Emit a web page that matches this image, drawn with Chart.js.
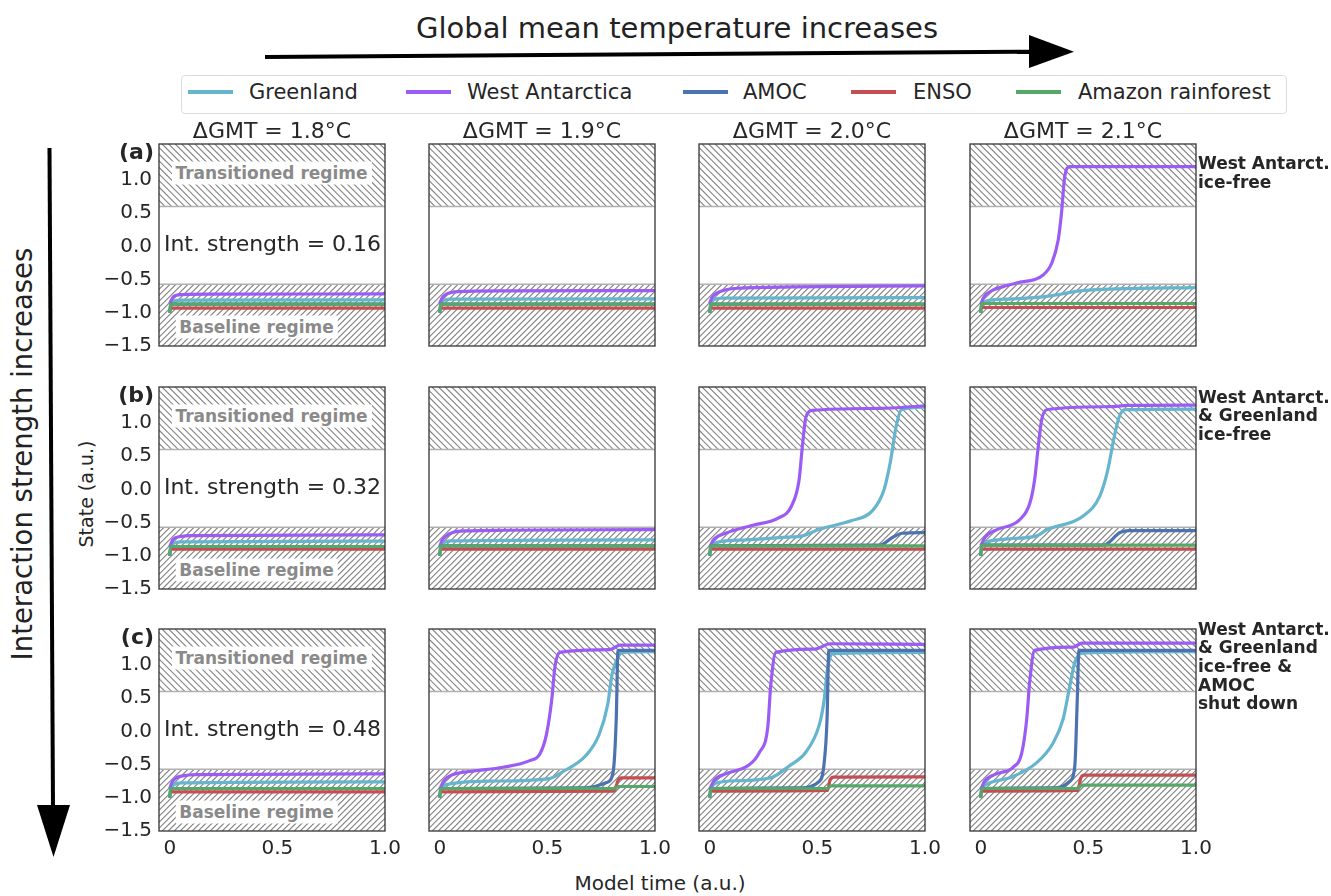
<!DOCTYPE html>
<html><head><meta charset="utf-8">
<script src="https://cdn.jsdelivr.net/npm/chart.js@4.4.0/dist/chart.umd.min.js"></script>
<style>
body{margin:0;background:#fff;}
#fig{position:relative;width:1331px;height:896px;overflow:hidden;font-family:"DejaVu Sans",sans-serif;color:#262626;background:#fff;}
.t{position:absolute;white-space:nowrap;line-height:1;transform:translate(-50%,-50%);}
.lab{position:absolute;white-space:nowrap;line-height:1;transform:translate(-100%,-50%);font-weight:bold;font-size:22px;}
.reg{position:absolute;white-space:nowrap;line-height:1;transform:translate(-50%,-50%);font-weight:bold;font-size:17px;color:#8a8a8a;background:#fff;padding:3px 4px;}
.ann{position:absolute;white-space:nowrap;font-weight:bold;font-size:17px;line-height:18.7px;color:#262626;}
canvas{position:absolute;}
#legend{position:absolute;left:181px;top:75px;width:1104px;height:37px;border:1px solid #dcdcdc;border-radius:4px;}
.lline{position:absolute;height:4px;width:45px;}
.ltxt{position:absolute;font-size:21px;line-height:1;transform:translateY(-50%);white-space:nowrap;}
svg{position:absolute;left:0;top:0;}
</style></head>
<body>
<div id="fig">
<svg width="1331" height="896">
  <line x1="265" y1="57" x2="1034" y2="51.7" stroke="#000" stroke-width="4"/>
  <polygon points="1029,35 1074,51.7 1029,68" fill="#000"/>
  <line x1="49.5" y1="148" x2="53" y2="810" stroke="#000" stroke-width="4"/>
  <polygon points="37,805 70,805 53.5,857" fill="#000"/>
</svg>
</div>
<script>
// ---------- labels ----------
const seriesNames = ['Greenland', 'West Antarctica', 'AMOC', 'ENSO', 'Amazon rainforest'];
const seriesColors = ['#64b5cd', '#9b5cf5', '#4c72b0', '#c44e52', '#55a868'];
const gmtLabels = ['ΔGMT = 1.8°C', 'ΔGMT = 1.9°C', 'ΔGMT = 2.0°C', 'ΔGMT = 2.1°C'];
const rowLabels = ['(a)', '(b)', '(c)'];
const strengths = ['0.16', '0.32', '0.48'];
const yTicks = [-1.5, -1.0, -0.5, 0.0, 0.5, 1.0];
const xTicks = [0, 0.5, 1.0];
const transitionedFrom = 0.6;
const baselineTo = -0.57;
const annotations = [
  ['West Antarct.', 'ice-free'],
  ['West Antarct.', '& Greenland', 'ice-free'],
  ['West Antarct.', '& Greenland', 'ice-free &', 'AMOC', 'shut down']
];

// ---------- data: [model time, state] ----------
// row (a) interaction strength 0.16
const gr_a1 = [[0,-0.86],[0.02,-0.82],[0.06,-0.81],[1,-0.805]];
const wa_a1 = [[0,-0.86],[0.016,-0.76],[0.054,-0.725],[0.2,-0.72],[1,-0.715]];
const am_a1 = [[0,-1.0],[0.004,-0.87],[1,-0.87]];
const en_a1 = [[0,-0.93],[1,-0.93]];
const az_a1 = [[0,-1.0],[0.004,-0.87],[1,-0.87]];

const gr_a2 = [[0,-0.86],[0.02,-0.81],[0.06,-0.795],[1,-0.79]];
const wa_a2 = [[0,-0.86],[0.01,-0.78],[0.03,-0.72],[0.085,-0.68],[0.3,-0.67],[1,-0.665]];
const am_a2 = [[0,-1.0],[0.004,-0.87],[1,-0.87]];
const en_a2 = [[0,-0.93],[1,-0.93]];
const az_a2 = [[0,-1.0],[0.004,-0.87],[1,-0.87]];

const gr_a3 = [[0,-0.86],[0.02,-0.80],[0.06,-0.78],[1,-0.77]];
const wa_a3 = [[0,-0.86],[0.01,-0.77],[0.035,-0.70],[0.08,-0.65],[0.13,-0.63],[0.4,-0.61],[1,-0.595]];
const am_a3 = [[0,-1.0],[0.004,-0.87],[1,-0.87]];
const en_a3 = [[0,-0.93],[1,-0.93]];
const az_a3 = [[0,-1.0],[0.004,-0.87],[1,-0.87]];

const gr_a4 = [[0,-0.86],[0.03,-0.82],[0.15,-0.79],[0.29,-0.76],[0.37,-0.72],[0.46,-0.67],[0.63,-0.64],[1,-0.62]];
const wa_a4 = [[0,-0.87],[0.015,-0.76],[0.056,-0.66],[0.1,-0.61],[0.166,-0.55],[0.29,-0.43],[0.33,-0.25],[0.36,0.10],[0.375,0.50],[0.39,1.05],[0.414,1.20],[1,1.20]];
const am_a4 = [[0,-1.0],[0.004,-0.86],[1,-0.86]];
const en_a4 = [[0,-0.92],[1,-0.92]];
const az_a4 = [[0,-1.0],[0.004,-0.86],[1,-0.86]];

// row (b) interaction strength 0.32
const gr_b1 = [[0,-0.86],[0.02,-0.81],[0.05,-0.79],[1,-0.78]];
const wa_b1 = [[0,-0.86],[0.016,-0.75],[0.05,-0.71],[0.1,-0.695],[1,-0.685]];
const am_b1 = [[0,-1.0],[0.004,-0.86],[1,-0.86]];
const en_b1 = [[0,-0.90],[1,-0.90]];
const az_b1 = [[0,-1.0],[0.004,-0.86],[1,-0.86]];

const gr_b2 = [[0,-0.86],[0.02,-0.80],[0.05,-0.775],[1,-0.76]];
const wa_b2 = [[0,-0.86],[0.01,-0.77],[0.03,-0.70],[0.06,-0.65],[0.12,-0.625],[0.3,-0.615],[1,-0.605]];
const am_b2 = [[0,-1.0],[0.004,-0.85],[1,-0.85]];
const en_b2 = [[0,-0.90],[1,-0.90]];
const az_b2 = [[0,-1.0],[0.004,-0.85],[1,-0.85]];

const gr_b3 = [[0,-0.86],[0.03,-0.80],[0.167,-0.76],[0.36,-0.72],[0.43,-0.70],[0.51,-0.60],[0.66,-0.47],[0.756,-0.32],[0.81,0.0],[0.84,0.43],[0.865,0.93],[0.89,1.20],[1,1.24]];
const wa_b3 = [[0,-0.86],[0.02,-0.75],[0.074,-0.66],[0.2,-0.54],[0.32,-0.43],[0.38,-0.25],[0.415,0.14],[0.43,0.64],[0.447,1.09],[0.477,1.19],[0.79,1.22],[1,1.26]];
const am_b3 = [[0,-1.0],[0.004,-0.85],[0.79,-0.84],[0.85,-0.72],[0.895,-0.66],[1,-0.65]];
const en_b3 = [[0,-0.90],[1,-0.90]];
const az_b3 = [[0,-1.0],[0.004,-0.85],[1,-0.85]];

const gr_b4 = [[0,-0.85],[0.03,-0.79],[0.15,-0.74],[0.26,-0.70],[0.306,-0.61],[0.476,-0.40],[0.553,-0.10],[0.59,0.29],[0.62,0.79],[0.643,1.09],[0.67,1.20],[1,1.21]];
const wa_b4 = [[0,-0.85],[0.02,-0.72],[0.073,-0.61],[0.18,-0.46],[0.228,-0.21],[0.25,0.14],[0.267,0.64],[0.283,1.05],[0.306,1.20],[0.6,1.245],[0.68,1.265],[1,1.27]];
const am_b4 = [[0,-1.0],[0.004,-0.84],[0.57,-0.84],[0.647,-0.65],[0.69,-0.62],[1,-0.62]];
const en_b4 = [[0,-0.90],[1,-0.90]];
const az_b4 = [[0,-1.0],[0.004,-0.84],[1,-0.84]];

// row (c) interaction strength 0.48
const gr_c1 = [[0,-0.86],[0.02,-0.80],[0.05,-0.775],[1,-0.76]];
const wa_c1 = [[0,-0.86],[0.01,-0.77],[0.03,-0.70],[0.06,-0.67],[0.12,-0.65],[1,-0.64]];
const am_c1 = [[0,-1.0],[0.004,-0.86],[1,-0.86]];
const en_c1 = [[0,-0.91],[1,-0.91]];
const az_c1 = [[0,-1.0],[0.004,-0.86],[1,-0.86]];

const gr_c2 = [[0,-0.86],[0.03,-0.80],[0.217,-0.75],[0.51,-0.71],[0.57,-0.61],[0.68,-0.36],[0.74,-0.05],[0.78,0.40],[0.80,0.85],[0.83,1.13],[0.85,1.19],[1,1.20]];
const wa_c2 = [[0,-0.87],[0.02,-0.74],[0.062,-0.65],[0.15,-0.60],[0.294,-0.54],[0.418,-0.44],[0.465,-0.34],[0.496,-0.04],[0.52,0.47],[0.535,0.97],[0.558,1.19],[0.79,1.23],[0.837,1.30],[1,1.30]];
const am_c2 = [[0,-1.0],[0.004,-0.86],[0.68,-0.85],[0.775,-0.77],[0.805,-0.62],[0.82,0.19],[0.828,1.22],[1,1.22]];
const en_c2 = [[0,-0.91],[0.81,-0.90],[0.828,-0.74],[0.843,-0.70],[1,-0.70]];
const az_c2 = [[0,-1.0],[0.004,-0.86],[0.81,-0.86],[0.83,-0.83],[1,-0.83]];

const gr_c3 = [[0,-0.86],[0.028,-0.78],[0.15,-0.74],[0.29,-0.69],[0.369,-0.52],[0.447,-0.31],[0.508,0.09],[0.53,0.44],[0.547,0.94],[0.57,1.17],[1,1.19]];
const wa_c3 = [[0,-0.87],[0.02,-0.74],[0.074,-0.64],[0.18,-0.51],[0.23,-0.32],[0.27,0.08],[0.283,0.68],[0.307,1.19],[0.49,1.24],[0.56,1.32],[1,1.31]];
const am_c3 = [[0,-1.0],[0.004,-0.86],[0.415,-0.85],[0.51,-0.75],[0.53,-0.52],[0.545,0.19],[0.553,1.22],[1,1.22]];
const en_c3 = [[0,-0.90],[0.547,-0.89],[0.56,-0.72],[0.575,-0.69],[1,-0.685]];
const az_c3 = [[0,-1.0],[0.004,-0.86],[0.545,-0.86],[0.565,-0.82],[1,-0.82]];

const gr_c4 = [[0,-0.86],[0.03,-0.79],[0.15,-0.68],[0.26,-0.47],[0.337,-0.17],[0.383,0.19],[0.414,0.69],[0.437,1.04],[0.47,1.18],[1,1.20]];
const wa_c4 = [[0,-0.87],[0.02,-0.74],[0.073,-0.64],[0.15,-0.54],[0.19,-0.33],[0.213,0.17],[0.228,0.77],[0.25,1.22],[0.43,1.27],[0.47,1.33],[1,1.33]];
const am_c4 = [[0,-1.0],[0.004,-0.86],[0.35,-0.85],[0.414,-0.75],[0.437,-0.52],[0.448,0.44],[0.456,1.22],[1,1.22]];
const en_c4 = [[0,-0.90],[0.45,-0.89],[0.465,-0.70],[0.48,-0.66],[1,-0.66]];
const az_c4 = [[0,-1.0],[0.004,-0.86],[0.45,-0.86],[0.47,-0.81],[1,-0.81]];

const panels = [
  [[gr_a1,wa_a1,am_a1,en_a1,az_a1],[gr_a2,wa_a2,am_a2,en_a2,az_a2],[gr_a3,wa_a3,am_a3,en_a3,az_a3],[gr_a4,wa_a4,am_a4,en_a4,az_a4]],
  [[gr_b1,wa_b1,am_b1,en_b1,az_b1],[gr_b2,wa_b2,am_b2,en_b2,az_b2],[gr_b3,wa_b3,am_b3,en_b3,az_b3],[gr_b4,wa_b4,am_b4,en_b4,az_b4]],
  [[gr_c1,wa_c1,am_c1,en_c1,az_c1],[gr_c2,wa_c2,am_c2,en_c2,az_c2],[gr_c3,wa_c3,am_c3,en_c3,az_c3],[gr_c4,wa_c4,am_c4,en_c4,az_c4]]
];

// ---------- layout ----------
const colLeft = [159, 429, 699, 970];
const rowTop = [144, 387, 629];
const PW = 226, PH = 202;
const PADL = 80, PADT = 12, PADR = 24, XAXH = 40;

const fig = document.getElementById('fig');
function addText(cls, txt, x, y, style) {
  const d = document.createElement('div');
  d.className = cls; d.textContent = txt;
  d.style.left = x + 'px'; d.style.top = y + 'px';
  if (style) Object.assign(d.style, style);
  fig.appendChild(d);
  return d;
}

// titles
addText('t', 'Global mean temperature increases', 677, 28, {fontSize: '29px', color: '#222'});
const vt = addText('t', 'Interaction strength increases', 23, 454, {fontSize: '27.5px', color: '#222'});
vt.style.transform = 'translate(-50%,-50%) rotate(-90deg)';
const st = addText('t', 'State (a.u.)', 86, 494, {fontSize: '19px'});
st.style.transform = 'translate(-50%,-50%) rotate(-90deg)';
addText('t', 'Model time (a.u.)', 660, 883, {fontSize: '20px'});

// legend
const leg = document.createElement('div'); leg.id = 'legend'; fig.appendChild(leg);
const legLineX = [188, 406, 683, 851, 1016];
const legTextX = [249, 467, 743, 913, 1078];
seriesNames.forEach((n, i) => {
  const l = document.createElement('div'); l.className = 'lline';
  l.style.left = (legLineX[i] - 182) + 'px'; l.style.top = (92 - 76 - 2) + 'px';
  l.style.background = seriesColors[i]; leg.appendChild(l);
  const t = document.createElement('div'); t.className = 'ltxt'; t.textContent = n;
  t.style.left = (legTextX[i] - 182) + 'px'; t.style.top = (92 - 76) + 'px';
  leg.appendChild(t);
});

// regime hatch plugin
function hatch(ctx, x0, y0, x1, y1, dir, step) {
  ctx.save();
  ctx.beginPath(); ctx.rect(x0, y0, x1 - x0, y1 - y0); ctx.clip();
  ctx.strokeStyle = '#858585'; ctx.lineWidth = 1.1;
  const h = y1 - y0;
  ctx.beginPath();
  for (let x = x0 - h - 7; x < x1 + 7; x += step) {
    if (dir < 0) { ctx.moveTo(x, y0); ctx.lineTo(x + h, y1); }
    else { ctx.moveTo(x, y1); ctx.lineTo(x + h, y0); }
  }
  ctx.stroke();
  ctx.restore();
}
const regimePlugin = {
  id: 'regimes',
  beforeDatasetsDraw(chart) {
    const {ctx, chartArea: a, scales: {y}} = chart;
    ctx.save();
    ctx.fillStyle = '#fff'; ctx.fillRect(a.left, a.top, a.width, a.height);
    const yt = y.getPixelForValue(transitionedFrom);
    const yb = y.getPixelForValue(baselineTo);
    hatch(ctx, a.left, a.top, a.right, yt, -1, 6.6);
    hatch(ctx, a.left, yb, a.right, a.bottom, 1, 6.0);
    ctx.strokeStyle = '#b0b0b0'; ctx.lineWidth = 1.5;
    ctx.beginPath();
    ctx.moveTo(a.left, yt); ctx.lineTo(a.right, yt);
    ctx.moveTo(a.left, yb); ctx.lineTo(a.right, yb);
    ctx.stroke();
    ctx.restore();
  },
  afterDatasetsDraw(chart) {
    const {ctx, chartArea: a} = chart;
    ctx.save();
    ctx.strokeStyle = '#333'; ctx.lineWidth = 1.3;
    ctx.strokeRect(a.left, a.top, a.width, a.height);
    ctx.restore();
  }
};

const fmtY = v => (v < 0 ? '\u2212' : '') + Math.abs(v).toFixed(1);
const fmtX = v => v === 0 ? '0' : v.toFixed(1);
const drawOrder = [4, 3, 2, 1, 0]; // Chart.js draws dataset 0 on top
const noPad = s => { s.paddingTop = 0; s.paddingBottom = 0; s.paddingLeft = 0; s.paddingRight = 0; };

for (let r = 0; r < 3; r++) {
  for (let c = 0; c < 4; c++) {
    const cv = document.createElement('canvas');
    const W = PADL + PW + PADR, H = PADT + PH + XAXH;
    cv.width = W; cv.height = H;
    cv.style.left = (colLeft[c] - PADL) + 'px';
    cv.style.top = (rowTop[r] - PADT) + 'px';
    fig.appendChild(cv);
    const series = panels[r][c];
    const datasets = drawOrder.map(i => ({
      label: seriesNames[i],
      data: series[i].map(p => ({x: p[0], y: p[1]})),
      borderColor: seriesColors[i],
      backgroundColor: seriesColors[i],
      borderWidth: 3.2,
      pointRadius: 0,
      fill: false,
      cubicInterpolationMode: 'monotone',
      borderJoinStyle: 'round',
      borderCapStyle: 'butt'
    }));
    new Chart(cv, {
      type: 'line',
      data: {datasets},
      plugins: [regimePlugin],
      options: {
        responsive: false, animation: false, devicePixelRatio: 1,
        layout: {padding: {left: 0, top: PADT, right: PADR, bottom: 0}},
        plugins: {legend: {display: false}, tooltip: {enabled: false}},
        scales: {
          x: {
            type: 'linear', min: -0.05, max: 1.0,
            grid: {display: false, drawTicks: false}, border: {display: false},
            ticks: {display: r === 2, font: {family: 'DejaVu Sans', size: 20}, color: '#262626',
                    padding: 6, maxRotation: 0, autoSkip: false, callback: fmtX},
            afterBuildTicks: s => { s.ticks = xTicks.map(v => ({value: v})); },
            afterFit: s => { s.height = XAXH; noPad(s); }
          },
          y: {
            type: 'linear', min: -1.5, max: 1.542,
            grid: {display: false, drawTicks: false}, border: {display: false},
            ticks: {display: c === 0, font: {family: 'DejaVu Sans', size: 20}, color: '#262626',
                    padding: 7, autoSkip: false, callback: fmtY},
            afterBuildTicks: s => { s.ticks = yTicks.map(v => ({value: v})); },
            afterFit: s => { s.width = PADL; noPad(s); }
          }
        }
      }
    });
    if (r === 0) addText('t', gmtLabels[c], colLeft[c] + PW / 2, 131, {fontSize: '22px'});
  }
  const dy = rowTop[r] - rowTop[0];
  addText('lab', rowLabels[r], 154, 152 + dy);
  addText('t', 'Int. strength = ' + strengths[r], 272.5, 244 + dy, {fontSize: '22px'});
  addText('reg', 'Transitioned regime', 271.5, 172.5 + dy);
  addText('reg', 'Baseline regime', 256.5, 327 + dy);
  const ann = document.createElement('div'); ann.className = 'ann';
  ann.innerHTML = annotations[r].map(s => s.replace(/&/g, '&amp;')).join('<br>');
  const annTop = [154, 387.5, 619.5][r];
  ann.style.left = '1198px'; ann.style.top = annTop + 'px';
  fig.appendChild(ann);
}
</script>
</body></html>
